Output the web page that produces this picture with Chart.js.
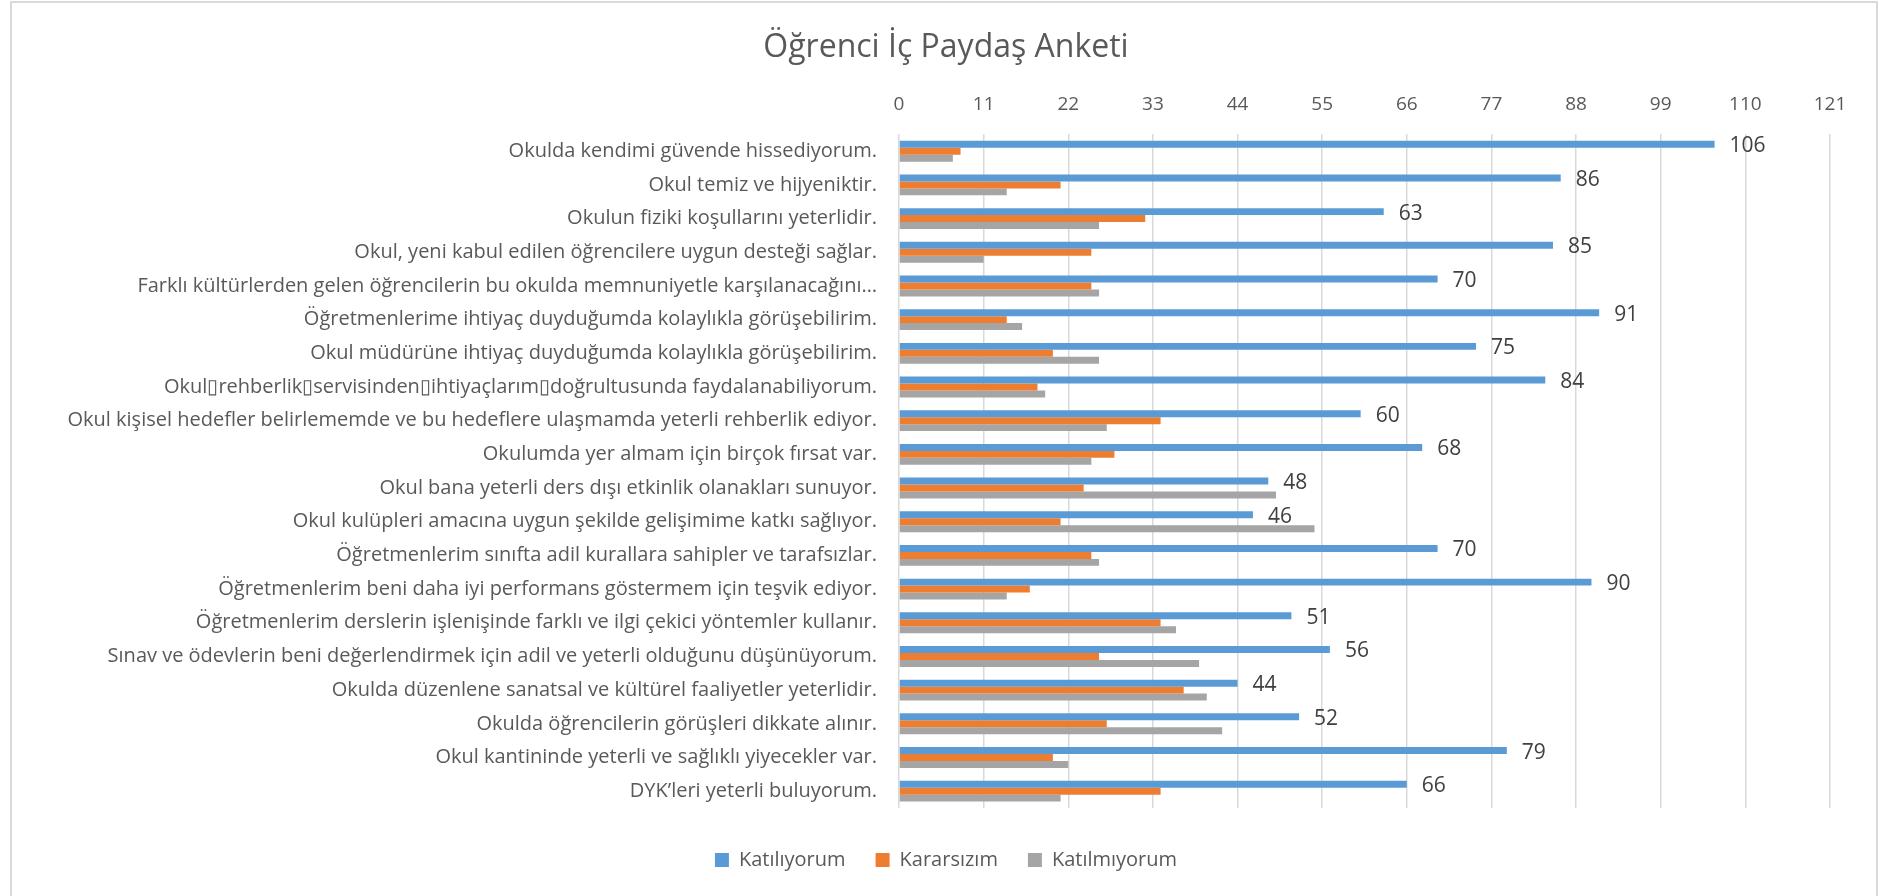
<!DOCTYPE html>
<html>
<head>
<meta charset="utf-8">
<title>Öğrenci İç Paydaş Anketi</title>
<script src="https://cdn.jsdelivr.net/npm/chart.js@4.4.1/dist/chart.umd.min.js"></script>
<style>
    html, body { margin: 0; padding: 0; background: #ffffff; }
    #frame {
        position: absolute; left: 10px; top: 1px; width: 1868px; height: 910px;
        border: 2px solid #d9d9d9; box-sizing: border-box;
    }
    #wrap { position: absolute; left: 0; top: 0; width: 1892px; height: 896px; }
</style>
</head>
<body>
<div id="frame"></div>
<div id="wrap"><canvas id="surveyChart" width="1892" height="896"></canvas></div>
<script>
// Chart data
var categories = [
    "Okulda kendimi güvende hissediyorum.",
    "Okul temiz ve hijyeniktir.",
    "Okulun fiziki koşullarını yeterlidir.",
    "Okul, yeni kabul edilen öğrencilere uygun desteği sağlar.",
    "Farklı kültürlerden gelen öğrencilerin bu okulda memnuniyetle karşılanacağını…",
    "Öğretmenlerime ihtiyaç duyduğumda kolaylıkla görüşebilirim.",
    "Okul müdürüne ihtiyaç duyduğumda kolaylıkla görüşebilirim.",
    "Okul▯rehberlik▯servisinden▯ihtiyaçlarım▯doğrultusunda faydalanabiliyorum.",
    "Okul kişisel hedefler belirlememde ve bu hedeflere ulaşmamda yeterli rehberlik ediyor.",
    "Okulumda yer almam için birçok fırsat var.",
    "Okul bana yeterli ders dışı etkinlik olanakları sunuyor.",
    "Okul kulüpleri amacına uygun şekilde gelişimime katkı sağlıyor.",
    "Öğretmenlerim sınıfta adil kurallara sahipler ve tarafsızlar.",
    "Öğretmenlerim beni daha iyi performans göstermem için teşvik ediyor.",
    "Öğretmenlerim derslerin işlenişinde farklı ve ilgi çekici yöntemler kullanır.",
    "Sınav ve ödevlerin beni değerlendirmek için adil ve yeterli olduğunu düşünüyorum.",
    "Okulda düzenlene sanatsal ve kültürel faaliyetler yeterlidir.",
    "Okulda öğrencilerin görüşleri dikkate alınır.",
    "Okul kantininde yeterli ve sağlıklı yiyecekler var.",
    "DYK’leri yeterli buluyorum."
];
var katiliyorum  = [106, 86, 63, 85, 70, 91, 75, 84, 60, 68, 48, 46, 70, 90, 51, 56, 44, 52, 79, 66];
var kararsizim   = [8, 21, 32, 25, 25, 14, 20, 18, 34, 28, 24, 21, 25, 17, 34, 26, 37, 27, 20, 34];
var katilmiyorum = [7, 14, 26, 11, 26, 16, 26, 19, 27, 25, 49, 54, 26, 14, 36, 39, 40, 42, 22, 21];
var xTicks = [0, 11, 22, 33, 44, 55, 66, 77, 88, 99, 110, 121];

var textColor = "#595959";
var fontFamily = "'Open Sans', 'Noto Sans', sans-serif";

// Value labels for the first series
var valueLabels = {
    id: "valueLabels",
    afterDatasetsDraw: function (chart) {
        var c = chart.ctx;
        var meta = chart.getDatasetMeta(0);
        c.save();
        c.font = "21px " + fontFamily;
        c.fillStyle = "#404040";
        c.textAlign = "left";
        c.textBaseline = "middle";
        meta.data.forEach(function (bar, i) {
            c.fillText(String(katiliyorum[i]), bar.x + 15, bar.y + 2);
        });
        c.restore();
    }
};

var ctx = document.getElementById("surveyChart");

var chartData = {
    labels: categories,
    datasets: [
        { label: "Katılıyorum", data: katiliyorum, backgroundColor: "#5B9BD5" },
        { label: "Kararsızım", data: kararsizim, backgroundColor: "#ED7D31" },
        { label: "Katılmıyorum", data: katilmiyorum, backgroundColor: "#A5A5A5" }
    ]
};

var chartOptions = {
    indexAxis: "y",
    responsive: false,
    animation: false,
    barPercentage: 1,
    categoryPercentage: 0.62,
    layout: { padding: { left: 10, right: 10, top: 0, bottom: 16 } },
    plugins: {
        title: {
            display: true,
            text: "Öğrenci İç Paydaş Anketi",
            color: textColor,
            font: { family: fontFamily, size: 32, weight: "normal" },
            padding: { top: 29, bottom: 0 }
        },
        legend: {
            position: "bottom",
            title: { display: true, text: "", font: { size: 10 }, padding: 0 },
            labels: {
                boxWidth: 14,
                boxHeight: 14,
                padding: 30,
                color: textColor,
                font: { family: fontFamily, size: 20 }
            }
        },
        tooltip: { enabled: false }
    },
    scales: {
        x: {
            position: "top",
            min: 0,
            max: 121,
            afterBuildTicks: function (scale) {
                scale.ticks = xTicks.map(function (v) { return { value: v }; });
            },
            afterFit: function (scale) { scale.height = 67; },
            grid: { color: "#d9d9d9", lineWidth: 1.5, drawTicks: false },
            border: { display: false },
            ticks: {
                padding: 18,
                color: textColor,
                font: { family: fontFamily, size: 19 }
            }
        },
        y: {
            afterFit: function (scale) { scale.width = 889; },
            grid: { display: false, drawTicks: false },
            border: { display: false },
            ticks: {
                autoSkip: false,
                padding: 22,
                color: textColor,
                font: { family: fontFamily, size: 20 }
            }
        },
        y2: {
            type: "linear",
            axis: "y",
            position: "right",
            afterFit: function (scale) { scale.width = 52; },
            grid: { display: false, drawTicks: false },
            border: { display: false },
            ticks: { display: false }
        }
    }
};

// Create the chart
var surveyChart = new Chart(ctx, {
    type: "bar",
    data: chartData,
    options: chartOptions,
    plugins: [valueLabels]
});
</script>
</body>
</html>
